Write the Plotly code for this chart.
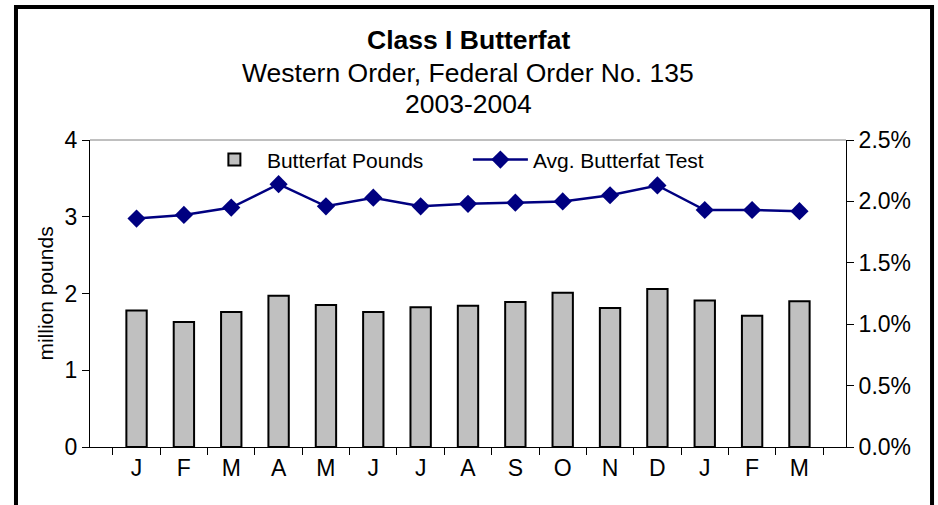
# // import libraries
import plotly.graph_objects as go

# // chart data
months = ["J", "F", "M", "A", "M", "J", "J", "A", "S", "O", "N", "D", "J", "F", "M"]
periods = ["Jan-03", "Feb-03", "Mar-03", "Apr-03", "May-03", "Jun-03", "Jul-03", "Aug-03",
           "Sep-03", "Oct-03", "Nov-03", "Dec-03", "Jan-04", "Feb-04", "Mar-04"]
butterfat_pounds = [1.78, 1.63, 1.76, 1.97, 1.85, 1.76, 1.82, 1.84,
                    1.89, 2.01, 1.81, 2.06, 1.91, 1.71, 1.90]
butterfat_test = [0.0186, 0.0189, 0.0195, 0.0214, 0.0196, 0.0203, 0.0196, 0.0198,
                  0.0199, 0.0200, 0.0205, 0.0213, 0.0193, 0.0193, 0.0192]
left_ticks = [0, 1, 2, 3, 4]
right_ticks = [0.0, 0.005, 0.01, 0.015, 0.02, 0.025]

FONT = "Liberation Sans, Arial, sans-serif"

fig = go.Figure()
fig.add_trace(go.Bar(
    x=periods, y=butterfat_pounds, name="Butterfat Pounds",
    marker=dict(color="#C0C0C0", line=dict(color="black", width=2)),
))
fig.add_trace(go.Scatter(
    x=periods, y=butterfat_test, name="Avg. Butterfat Test", yaxis="y2",
    mode="lines+markers",
    line=dict(color="#000080", width=2.5),
    marker=dict(symbol="diamond", size=14, color="#000080"),
))

# // title lines
titles = [("<b>Class I Butterfat</b>", 40), ("Western Order, Federal Order No. 135", 73), ("2003-2004", 104)]
annotations = []
for text, ypx in titles:
    annotations.append(dict(
        text=text, xref="paper", yref="paper", x=0.5, y=(447 - ypx) / 307,
        showarrow=False, xanchor="center", yanchor="middle",
        font=dict(family=FONT, size=26.5, color="black"),
    ))

fig.update_layout(
    width=938, height=505,
    margin=dict(l=90, r=92, t=140, b=58, autoexpand=False),
    paper_bgcolor="white", plot_bgcolor="white",
    font=dict(family=FONT, size=23, color="black"),
    bargap=0.57,
    showlegend=True,
    legend=dict(
        orientation="h", x=0.148, y=0.935, xanchor="left", yanchor="middle",
        font=dict(size=21), bgcolor="rgba(0,0,0,0)", itemwidth=55,
        entrywidth=196, entrywidthmode="pixels",
    ),
    annotations=annotations,
    xaxis=dict(
        type="category", tickmode="array", tickvals=periods, ticktext=months,
        tickson="boundaries", ticks="outside", ticklen=7, tickcolor="black",
        showline=True, linecolor="black", linewidth=1, showgrid=False,
        tickfont=dict(size=23), automargin=False,
    ),
    yaxis=dict(
        range=[0, 4], tickvals=left_ticks, ticks="outside", ticklen=7,
        tickcolor="black", showline=True, linecolor="black", linewidth=1,
        showgrid=False, zeroline=False, tickfont=dict(size=23), automargin=False,
        title=dict(text="million pounds", font=dict(size=21), standoff=5),
    ),
    yaxis2=dict(
        range=[0, 0.025], tickvals=right_ticks, tickformat=".1%",
        overlaying="y", side="right", ticks="outside", ticklen=7,
        tickcolor="black", showline=True, linecolor="black", linewidth=1,
        showgrid=False, zeroline=False, tickfont=dict(size=23), automargin=False,
    ),
    shapes=[
        # plot area top border
        dict(type="line", xref="paper", yref="paper", x0=0, x1=1, y0=1, y1=1,
             line=dict(color="#808080", width=1)),
        # outer chart frame
        dict(type="rect", xref="paper", yref="paper", x0=-0.0979, x1=1.1138,
             y0=-0.3, y1=1.4332, line=dict(color="black", width=4)),
    ],
)

# remove the page's default body margin so the figure sits at the window corner
fig.write_html("out.html", config={"displayModeBar": False},
               post_script="document.body.style.margin='0';")
